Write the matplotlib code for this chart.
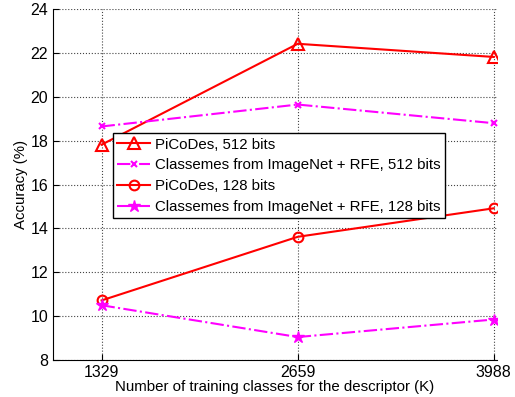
import numpy as np
import matplotlib
matplotlib.use("Agg")
import matplotlib.pyplot as plt

plt.rcParams['font.family'] = ['Liberation Sans', 'DejaVu Sans']

classes = [1329, 2659, 3988]
picodes_512 = [17.82, 22.42, 21.82]
classemes_512 = [18.65, 19.65, 18.8]
picodes_128 = [10.72, 13.62, 14.92]
classemes_128 = [10.5, 9.05, 9.85]
yticks = [8, 10, 12, 14, 16, 18, 20, 22, 24]

fig = plt.figure(figsize=(5.15, 3.97), dpi=100)
ax = fig.add_axes([0.103, 0.093, 0.862, 0.884])

ax.plot(classes, picodes_512, '-', color='red', lw=1.5, marker='^', ms=8,
        mfc='none', mew=1.5, label='PiCoDes, 512 bits')
ax.plot(classes, classemes_512, '-.', color='magenta', lw=1.5, marker='x', ms=5,
        mew=1.5, label='Classemes from ImageNet + RFE, 512 bits')
ax.plot(classes, picodes_128, '-', color='red', lw=1.5, marker='o', ms=7,
        mfc='none', mew=1.5, label='PiCoDes, 128 bits')
ax.plot(classes, classemes_128, '-.', color='magenta', lw=1.5, marker='*', ms=9,
        mew=1, label='Classemes from ImageNet + RFE, 128 bits')

ax.set_xlim(1000, 4010)
ax.set_ylim(8, 24)
ax.set_xticks(classes)
ax.set_yticks(yticks)
ax.grid(True, linestyle=':', color='#444444', lw=0.8)
ax.tick_params(direction='in', labelsize=11.5, length=4)
for s in ['top', 'right']:
    ax.spines[s].set_visible(False)
ax.set_xlabel('Number of training classes for the descriptor (K)', fontsize=10.8, labelpad=0)
ax.set_ylabel('Accuracy (%)', fontsize=10.8, labelpad=2)

leg = ax.legend(loc='upper left', bbox_to_anchor=(0.135, 0.647), borderaxespad=0,
                fontsize=10.8, fancybox=False, framealpha=1, edgecolor='black',
                handlelength=2.2, handletextpad=0.3, labelspacing=0.45,
                borderpad=0.3)
leg.get_frame().set_linewidth(1.0)

fig.savefig('out.png', dpi=100)
